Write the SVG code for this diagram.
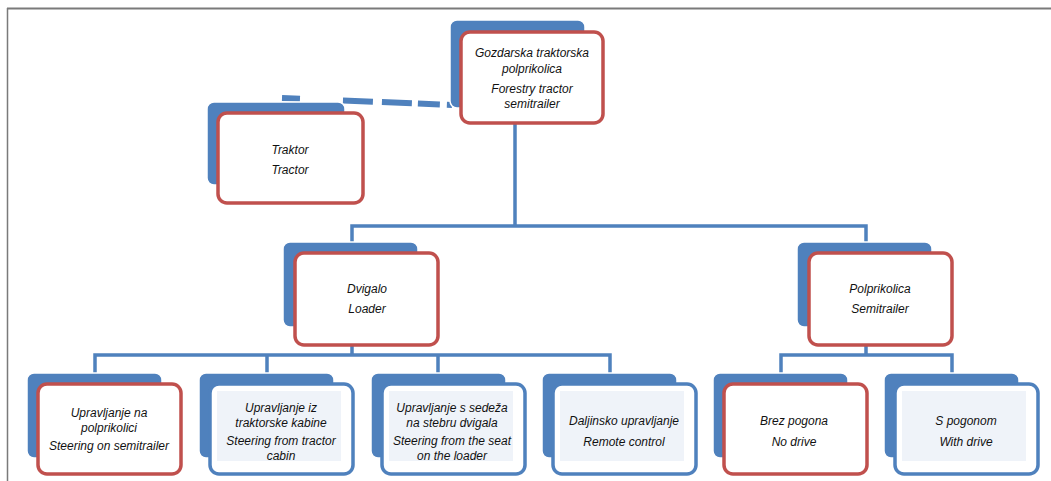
<svg xmlns="http://www.w3.org/2000/svg" width="1051" height="481" viewBox="0 0 1051 481">
<style>
.back{fill:#4f81bd;stroke:#ffffff;stroke-width:1.5}
.fr{fill:#ffffff;stroke:#c0504d;stroke-width:3.5}
.fb{fill:#ffffff;stroke:#4f81bd;stroke-width:3.5}
.inner{fill:#eff3f9}
.con{fill:none;stroke:#4f81bd;stroke-width:3.5}
.dash{fill:none;stroke:#4f81bd;stroke-width:6;stroke-dasharray:18 43 30 9 30 6 22 7 60}
text{font-family:"Liberation Sans",Arial,sans-serif;font-style:italic;font-size:12px;fill:#111111;text-anchor:middle}
</style>
<rect x="0" y="0" width="1051" height="481" fill="#ffffff"/>
<g id="frame">
<line x1="7" y1="8.5" x2="1051" y2="8.5" stroke="#7a7a7a" stroke-width="2"/>
<line x1="7.5" y1="8" x2="7.5" y2="481" stroke="#7a7a7a" stroke-width="1.5"/>
</g>
<g id="connectors">
<line class="dash" x1="282" y1="98" x2="452" y2="105"/>
<path class="con" d="M515 123V226M352 242V226H866V242"/>
<path class="con" d="M352 345V355M95 373V355H610V373M267 355V373M438 355V373"/>
<path class="con" d="M866 345V355M781 373V355H952V373"/>
</g>
<g id="n-root">
<rect class="back" x="450" y="20" width="135" height="88" rx="7"/>
<rect class="fr" x="461" y="32" width="142" height="91" rx="9"/>
<text x="532" y="57">Gozdarska traktorska</text>
<text x="532" y="73">polprikolica</text>
<text x="532" y="93">Forestry tractor</text>
<text x="532" y="108">semitrailer</text>
</g>
<g id="n-traktor">
<rect class="back" x="207" y="102" width="138" height="83" rx="7"/>
<rect class="fr" x="218" y="113" width="145" height="90" rx="9"/>
<text x="290" y="154">Traktor</text>
<text x="290" y="174">Tractor</text>
</g>
<g id="n-dvigalo">
<rect class="back" x="283" y="242" width="135" height="85" rx="7"/>
<rect class="fr" x="295" y="253" width="143" height="92" rx="9"/>
<text x="367" y="293">Dvigalo</text>
<text x="367" y="313">Loader</text>
</g>
<g id="n-polprikolica">
<rect class="back" x="797" y="242" width="135" height="85" rx="7"/>
<rect class="fr" x="809" y="253" width="143" height="92" rx="9"/>
<text x="880" y="293">Polprikolica</text>
<text x="880" y="313">Semitrailer</text>
</g>
<g id="n-upr-polprikolici">
<rect class="back" x="27" y="373" width="135" height="85" rx="7"/>
<rect class="fr" x="38" y="384" width="143" height="90" rx="9"/>
<text x="109" y="417">Upravljanje na</text>
<text x="109" y="432">polprikolici</text>
<text x="109" y="450">Steering on semitrailer</text>
</g>
<g id="n-upr-kabine">
<rect class="back" x="199" y="373" width="135" height="85" rx="7"/>
<rect class="fb" x="210" y="384" width="143" height="90" rx="9"/>
<rect class="inner" x="217" y="391" width="124" height="70"/>
<text x="281" y="412">Upravljanje iz</text>
<text x="281" y="427">traktorske kabine</text>
<text x="281" y="445">Steering from tractor</text>
<text x="281" y="460">cabin</text>
</g>
<g id="n-upr-sedeza">
<rect class="back" x="371" y="373" width="135" height="85" rx="7"/>
<rect class="fb" x="382" y="384" width="143" height="90" rx="9"/>
<rect class="inner" x="389" y="391" width="124" height="70"/>
<text x="452" y="412">Upravljanje s sedeža</text>
<text x="452" y="427">na stebru dvigala</text>
<text x="452" y="445">Steering from the seat</text>
<text x="452" y="460">on the loader</text>
</g>
<g id="n-daljinsko">
<rect class="back" x="542" y="373" width="135" height="85" rx="7"/>
<rect class="fb" x="553" y="384" width="143" height="90" rx="9"/>
<rect class="inner" x="560" y="391" width="124" height="70"/>
<text x="624" y="425">Daljinsko upravljanje</text>
<text x="624" y="446">Remote control</text>
</g>
<g id="n-brez-pogona">
<rect class="back" x="713" y="373" width="135" height="85" rx="7"/>
<rect class="fr" x="724" y="384" width="143" height="90" rx="9"/>
<text x="794" y="425">Brez pogona</text>
<text x="794" y="446">No drive</text>
</g>
<g id="n-s-pogonom">
<rect class="back" x="884" y="373" width="135" height="85" rx="7"/>
<rect class="fb" x="895" y="384" width="143" height="90" rx="9"/>
<rect class="inner" x="902" y="391" width="124" height="70"/>
<text x="966" y="425">S pogonom</text>
<text x="966" y="446">With drive</text>
</g>
</svg>
